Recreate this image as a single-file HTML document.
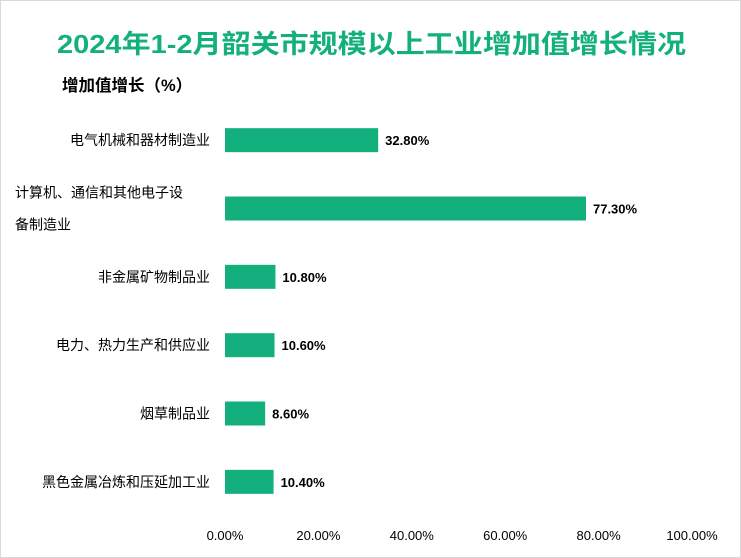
<!DOCTYPE html>
<html><head><meta charset="utf-8"><style>
body{margin:0;background:#fff;}
svg{display:block;font-family:"Liberation Sans","Noto Sans CJK SC",sans-serif;}
</style></head><body>
<svg id="c" width="741" height="558">
<rect x="0.5" y="0.5" width="740" height="557" fill="#fff" stroke="#d9d9d9"/>
<text x="57" y="53" font-size="26" font-weight="bold" fill="#13b07e" textLength="629" lengthAdjust="spacingAndGlyphs">2024年1-2月韶关市规模以上工业增加值增长情况</text>
<text x="62" y="91" font-size="16.5" font-weight="bold" fill="#000">增加值增长（%）</text>
<g id="bars"></g>
</svg>
<script>
const categories=[["电气机械和器材制造业"],["计算机、通信和其他电子设","备制造业"],["非金属矿物制品业"],["电力、热力生产和供应业"],["烟草制品业"],["黑色金属冶炼和压延加工业"]];
const values=[32.8,77.3,10.8,10.6,8.6,10.4];
const ticks=[0,20,40,60,80,100];
const tickLabels=["0.00%","20.00%","40.00%","60.00%","80.00%","100.00%"];
const x0=225,x1=692,yTop=106,yBot=516;
const xs=v=>x0+(v/100)*(x1-x0);
const band=(yBot-yTop)/categories.length;
const ys=i=>yTop+band*(i+0.5);
const g=document.getElementById('bars');
const NS='http://www.w3.org/2000/svg';
function mk(t,a){const e=document.createElementNS(NS,t);for(const k in a)e.setAttribute(k,a[k]);g.appendChild(e);return e;}
values.forEach((v,i)=>{
 const cy=ys(i);
 const r=mk('rect',{x:x0,y:cy-12,width:xs(v)-x0,height:24,fill:'#13b07e'});
 
 
 const t=mk('text',{x:xs(v)+7,y:cy+5,'font-size':13,'font-weight':'bold',fill:'#000'});
 t.textContent=v.toFixed(2)+'%';
 
 
 const lines=categories[i];
 lines.forEach((s,j)=>{
  const multi=lines.length>1;
  const l=mk('text',{x:multi?15:210,y:cy+5+(j-(lines.length-1)/2)*32,'font-size':14,fill:'#000','text-anchor':multi?'start':'end'});
  l.textContent=s;
  
  
 });
});
ticks.forEach((v,i)=>{
 const t=mk('text',{x:xs(v),y:540,'font-size':13,fill:'#000','text-anchor':'middle'});
 t.textContent=tickLabels[i];
 
 
});
</script>
</body></html>
